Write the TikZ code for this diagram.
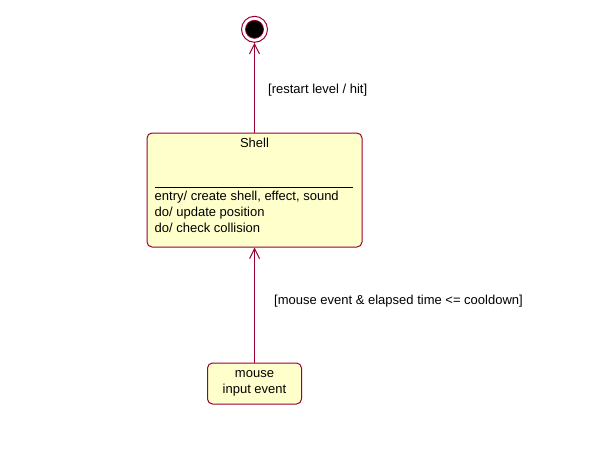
\documentclass[tikz,border=0pt]{standalone}
\usepackage{fontspec}
\setmainfont{Liberation Sans}
\usetikzlibrary{arrows.meta,positioning}
\definecolor{statered}{RGB}{153,0,51}
\definecolor{statefill}{RGB}{255,255,204}

\begin{document}
\begin{tikzpicture}[
    %–––– GLOBAL STYLE TWEAKS ––––
    x=1pt, y=-1pt,                                   % pixel-like units, y down
    font=\fontsize{13}{16}\selectfont,
    >={Straight Barb[length=10pt,width=10pt]},
    state/.style = {rectangle, draw=statered, fill=statefill,
                    line width=1pt, rounded corners=5pt,
                    inner sep=0pt},
    finalring/.style = {circle, draw=statered, fill=white, line width=1pt,
                        minimum size=26pt, inner sep=0pt},
    finalcore/.style = {circle, draw=statered, fill=black, line width=0.8pt,
                        minimum size=18pt, inner sep=0pt},
    guard/.style = {anchor=base west, inner sep=0pt},
    trans/.style = {->, draw=statered, line width=1pt},
]
\useasboundingbox (0,0) rectangle (591,453);

%–––– STATES ––––
\node (shell)    [state, minimum width=215pt, minimum height=114pt] at (254.5,190) {};

\node (final)    [finalring, above=89.7pt of shell] {};
\node (finaldot) [finalcore] at (final) {};

\node (mouse)    [state, align=center, minimum width=94pt, minimum height=41pt,
                  font=\fontsize{13}{15.5}\selectfont,
                  below=115pt of shell] {mouse\\input event};

%–––– SHELL COMPARTMENTS ––––
\node (shell_title) [anchor=base, inner sep=0pt] at ([shift={(0,14.7)}]shell.north) {Shell};

\draw[line width=1pt] ([shift={(8,54.7)}]shell.north west) -- ([shift={(-10,54.7)}]shell.north east);

% base of a multi-line node = baseline of its last line
\node (shell_body) [anchor=base west, align=left, inner sep=0pt]
      at ([shift={(8,100.3)}]shell.north west)
      {entry/ create shell, effect, sound\\do/ update position\\do/ check collision};

%–––– TRANSITIONS ––––
\foreach \a/\b in {shell/final, mouse/shell}
  \draw[trans] (\a) -- (\b);

%–––– GUARDS ––––
\node (hit_guard)      [guard] at ([shift={(13.5,-39)}]shell.north) {[restart level / hit]};
\node (cooldown_guard) [guard] at ([shift={(19.5,57)}]shell.south) {[mouse event \& elapsed time <= cooldown]};
\end{tikzpicture}
\end{document}
